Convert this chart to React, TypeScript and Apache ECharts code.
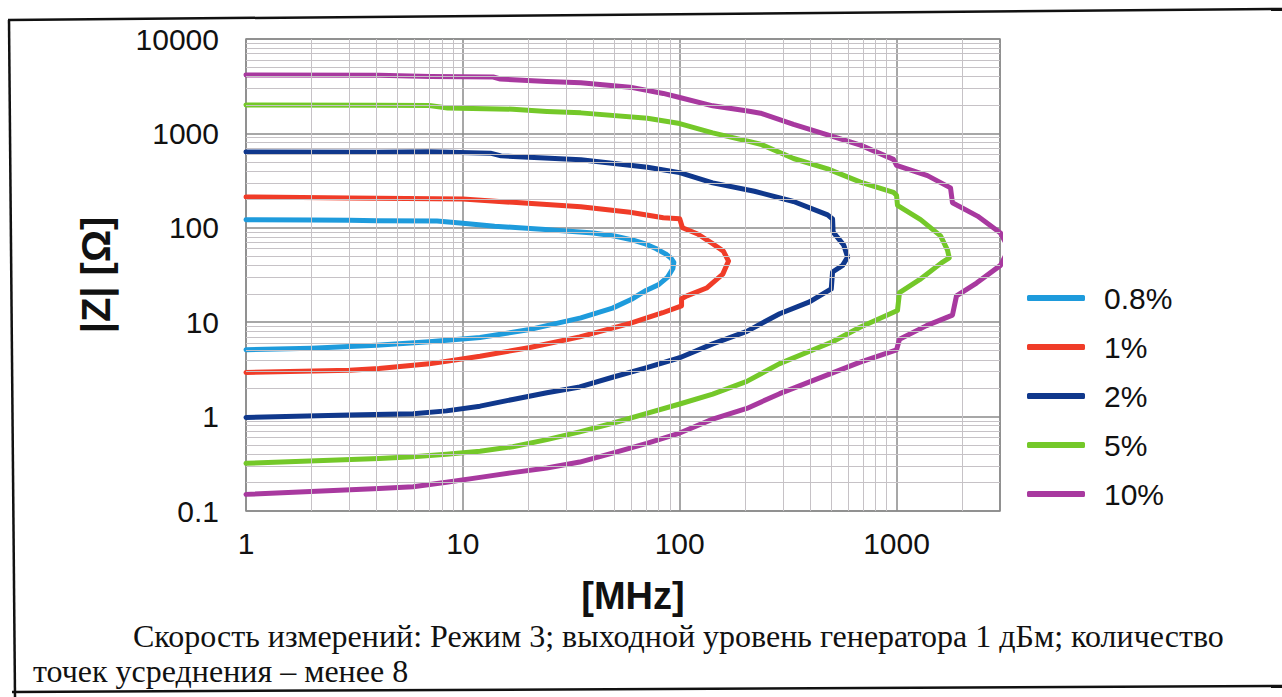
import React, { useEffect, useRef } from "react";
import * as echarts from "echarts";

const seriesNames = ["0.8%", "1%", "2%", "5%", "10%"];
const seriesColors = ["#1e9bdc", "#f03c28", "#10388c", "#74c829", "#a8399f"];
const xTickLabels = ["1", "10", "100", "1000"];
const yTickLabels = ["0.1", "1", "10", "100", "1000", "10000"];
const xAxisName = "[MHz]";
const yAxisName = "|Z| [Ω]";
const caption1 = "Скорость измерений: Режим 3; выходной уровень генератора 1 дБм; количество";
const caption2 = "точек усреднения – менее 8";

const curve08: [number, number][] = [
  [1, 122], [2, 121], [3, 120], [4, 119], [7.6, 118], [10, 112], [14, 104], [24, 96], [40, 88],
  [50, 82], [61, 74], [70, 67], [78, 60], [86, 53], [91, 48], [94, 43], [93, 37], [88, 30],
  [80, 25], [70, 21.7], [60, 17.5], [49, 14.1], [35, 11.1], [20, 8.3], [12, 6.9], [7, 6.2],
  [4, 5.7], [2, 5.3], [1, 5.1],
];
const curve1: [number, number][] = [
  [1, 212], [3, 207], [10, 202], [17, 186], [35, 167], [59, 146], [84, 128], [100, 125],
  [103, 100], [121, 86], [143, 67], [159, 56.6], [168, 44.4], [158, 32.3], [133, 23], [108, 19],
  [102, 17.7], [102, 14.9], [83.5, 12.6], [59, 9.7], [34.6, 7.0], [20.4, 5.4], [12, 4.36],
  [7, 3.62], [4.1, 3.24], [3, 3.1], [1, 2.94],
];
const curve2: [number, number][] = [
  [1, 634], [4, 632], [7, 641], [13.4, 618], [15, 578], [35, 525], [71, 437], [100, 384],
  [142, 299], [221, 244], [335, 190], [481, 137], [507, 124], [510, 90], [570, 66], [595, 49],
  [564, 40], [507, 34], [500, 22.5], [397, 16.4], [289, 12.3], [204, 8.0], [142, 5.9], [100, 4.2],
  [70.5, 3.3], [49, 2.61], [34.6, 2.06], [24.4, 1.79], [17, 1.52], [12, 1.29], [8.4, 1.15],
  [5.9, 1.07], [3, 1.04], [1, 0.98],
];
const curve5: [number, number][] = [
  [1, 1995], [4, 1990], [7, 1970], [8.5, 1860], [17, 1805], [24.4, 1710], [35, 1650], [71, 1446],
  [100, 1271], [142, 1012], [206, 828], [236, 768], [335, 542], [481, 421], [682, 305], [968, 237],
  [1000, 221], [1010, 173], [1291, 122], [1596, 82], [1718, 58], [1750, 48], [1611, 42.5],
  [1277, 28.2], [1032, 20.6], [1010, 13.3], [675, 8.8], [507, 6.2], [289, 3.64], [204, 2.36],
  [142, 1.73], [100, 1.36], [70.5, 1.08], [49, 0.85], [34.6, 0.69], [24.4, 0.57], [17, 0.48],
  [12, 0.43], [8.4, 0.4], [5.9, 0.376], [4.1, 0.36], [1, 0.32],
];
const curve10: [number, number][] = [
  [1, 4150], [4.1, 4140], [7.1, 4000], [13.8, 3955], [14.9, 3770], [24.4, 3550], [35, 3440],
  [59, 3090], [84, 2650], [100, 2400], [142, 1960], [206, 1725], [236, 1637], [335, 1243],
  [481, 966], [682, 751], [968, 531], [1000, 459], [1389, 357], [1774, 265], [1811, 184],
  [2362, 133], [3015, 88], [3300, 60], [3015, 40], [2338, 26], [1890, 19], [1811, 11.9],
  [1375, 9.2], [1032, 6.6], [1000, 5.1], [675, 3.76], [397, 2.33], [289, 1.75], [204, 1.22],
  [142, 0.94], [100, 0.67], [70.5, 0.52], [49, 0.41], [34.6, 0.33], [24.4, 0.286], [17, 0.255],
  [12, 0.227], [8.4, 0.202], [5.9, 0.181], [4.1, 0.173], [1, 0.15],
];
const curves = [curve08, curve1, curve2, curve5, curve10];

// minor grid positions (2..9 in each decade)
const minorMultipliers = [2, 3, 4, 5, 6, 7, 8, 9];
const xDecades = [1, 10, 100, 1000];
const yDecades = [0.1, 1, 10, 100, 1000];

const NARROW = "'Liberation Sans Narrow', 'Arial Narrow', 'Liberation Sans', sans-serif";
const BOLD = "'Liberation Sans', Arial, sans-serif";
const SERIF = "'Liberation Serif', 'Times New Roman', serif";

function decadeLabel(v: number, labels: string[], offset: number) {
  const l = Math.log10(v);
  const r = Math.round(l);
  if (Math.abs(l - r) > 1e-6) return "";
  return labels[r + offset] ?? "";
}

export default function App() {
  const ref = useRef<HTMLDivElement>(null);
  useEffect(() => {
    if (!ref.current) return;
    const chart = echarts.init(ref.current, null, { renderer: "svg" });
    const minorX: number[] = [];
    xDecades.forEach((d) => minorMultipliers.forEach((m) => { if (m * d < 3000) minorX.push(m * d); }));
    const minorY: number[] = [];
    yDecades.forEach((d) => minorMultipliers.forEach((m) => minorY.push(m * d)));

    const option: any = {
      animation: false,
      backgroundColor: "#ffffff",
      grid: {
        left: 246, top: 39, width: 754, height: 472,
        show: true, borderColor: "#8a8a8a", borderWidth: 1.5, backgroundColor: "transparent",
      },
      xAxis: {
        type: "log", logBase: 10, min: 1, max: 3000,
        axisLine: { show: false }, axisTick: { show: false },
        splitLine: { show: true, lineStyle: { color: "#8a8a8a", width: 1.5 } },
        axisLabel: {
          formatter: (v: number) => decadeLabel(v, xTickLabels, 0),
          showMaxLabel: false, fontFamily: NARROW, fontSize: 30, color: "#111", margin: 17,
        },
        name: xAxisName, nameLocation: "middle", nameGap: 66,
        nameTextStyle: { fontFamily: BOLD, fontWeight: "bold", fontSize: 38, color: "#111", padding: [0, 0, 0, 20] },
      },
      yAxis: {
        type: "log", logBase: 10, min: 0.1, max: 10000,
        axisLine: { show: false }, axisTick: { show: false },
        splitLine: { show: true, lineStyle: { color: "#8a8a8a", width: 1.5 } },
        axisLabel: {
          formatter: (v: number) => decadeLabel(v, yTickLabels, 1),
          fontFamily: NARROW, fontSize: 30, color: "#111", margin: 27,
        },
        name: yAxisName, nameLocation: "middle", nameRotate: 90, nameGap: 130,
        nameTextStyle: { fontFamily: BOLD, fontWeight: "bold", fontSize: 40, color: "#111" },
      },
      legend: {
        orient: "vertical", left: 1022, top: 278, itemWidth: 58, itemHeight: 6, itemGap: 19,
        icon: "roundRect", data: seriesNames,
        textStyle: { fontFamily: NARROW, fontSize: 30, color: "#111", lineHeight: 30, padding: [0, 0, 0, 14] },
      },
      graphic: [
        { type: "line", shape: { x1: 8, y1: 20, x2: 1282, y2: 9 }, style: { stroke: "#111", lineWidth: 2.5 } },
        { type: "line", shape: { x1: 9, y1: 20, x2: 15, y2: 697 }, style: { stroke: "#111", lineWidth: 2.5 } },
        { type: "line", shape: { x1: 12, y1: 692, x2: 1282, y2: 686 }, style: { stroke: "#111", lineWidth: 2.5 } },
        { type: "text", x: 133, y: 636, style: { text: caption1, fontFamily: SERIF, fontSize: 32, fill: "#111", verticalAlign: "middle" } },
        { type: "text", x: 33, y: 671, style: { text: caption2, fontFamily: SERIF, fontSize: 32, fill: "#111", verticalAlign: "middle" } },
      ],
      series: [
        {
          name: "grid-minor", type: "line", data: [[1, 1]], showSymbol: false, symbol: "none",
          lineStyle: { width: 0 }, silent: true, z: 1,
          markLine: {
            silent: true, symbol: ["none", "none"], label: { show: false }, animation: false,
            lineStyle: { color: "#c6c2c6", width: 1, type: "solid" },
            emphasis: { disabled: true },
            data: [...minorX.map((v) => ({ xAxis: v })), ...minorY.map((v) => ({ yAxis: v }))],
          },
        },
        ...curves.map((c, i) => ({
          name: seriesNames[i], type: "line", data: c, showSymbol: false, symbol: "none",
          clip: true, z: 3, color: seriesColors[i],
          lineStyle: { width: 5, color: seriesColors[i], join: "round", cap: "round" },
          itemStyle: { color: seriesColors[i] },
        })),
      ],
    };
    chart.setOption(option);
    return () => chart.dispose();
  }, []);
  return (
    <div
      ref={ref}
      style={{ position: "fixed", left: 0, top: 0, width: 1282, height: 697, background: "#fff" }}
    />
  );
}
